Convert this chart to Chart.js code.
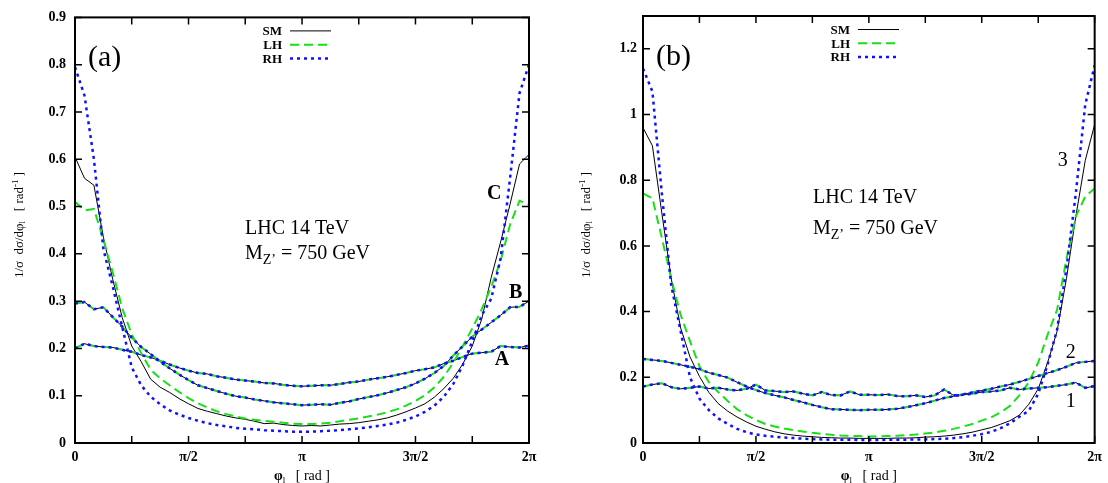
<!DOCTYPE html>
<html>
<head>
<meta charset="utf-8">
<script src="https://cdn.jsdelivr.net/npm/chart.js@4.4.1/dist/chart.umd.min.js"></script>
<style>
  body { margin: 0; background: #fff; }
  #wrap { position: relative; width: 1108px; height: 483px; overflow: hidden; }
  .panel { position: absolute; top: 0; width: 554px; height: 483px; }
</style>
</head>
<body>
<div id="wrap">
  <div class="panel" style="left:0"><canvas id="chartA" width="554" height="483"></canvas></div>
  <div class="panel" style="left:554px"><canvas id="chartB" width="554" height="483"></canvas></div>
</div>
<script>
// phi_l bin centres [rad]
const phi = [0.000, 0.131, 0.262, 0.393, 0.524, 0.654, 0.785, 0.916, 1.047, 1.178, 1.309, 1.440, 1.571,
  1.702, 1.833, 1.963, 2.094, 2.225, 2.356, 2.487, 2.618, 2.749, 2.880, 3.011, 3.142,
  3.272, 3.403, 3.534, 3.665, 3.796, 3.927, 4.058, 4.189, 4.320, 4.451, 4.581, 4.712,
  4.843, 4.974, 5.105, 5.236, 5.367, 5.498, 5.629, 5.760, 5.890, 6.021, 6.152, 6.283];

// x ticks every pi/4, labels only on multiples of pi/2
const xTicks = [0, 0.785, 1.571, 2.356, 3.142, 3.927, 4.712, 5.498, 6.283];
const xTickLabels = ['0', '', 'π/2', '', 'π', '', '3π/2', '', '2π'];

// panel (a)
const yTicksA = [0, 0.1, 0.2, 0.3, 0.4, 0.5, 0.6, 0.7, 0.8, 0.9];
const yTickLabelsA = ['0', '0.1', '0.2', '0.3', '0.4', '0.5', '0.6', '0.7', '0.8', '0.9'];
const curveA = [0.200, 0.210, 0.205, 0.203, 0.202, 0.197, 0.193, 0.186, 0.181, 0.174, 0.166, 0.159, 0.153,
  0.148, 0.146, 0.141, 0.138, 0.134, 0.132, 0.130, 0.127, 0.126, 0.123, 0.121, 0.120,
  0.121, 0.122, 0.122, 0.125, 0.128, 0.130, 0.134, 0.137, 0.140, 0.144, 0.148, 0.153,
  0.156, 0.160, 0.168, 0.174, 0.182, 0.189, 0.191, 0.193, 0.205, 0.203, 0.202, 0.206];
const curveB = [0.295, 0.298, 0.283, 0.287, 0.266, 0.246, 0.223, 0.203, 0.188, 0.172, 0.158, 0.145, 0.133,
  0.122, 0.116, 0.110, 0.104, 0.099, 0.096, 0.092, 0.089, 0.086, 0.084, 0.082, 0.080,
  0.081, 0.082, 0.081, 0.085, 0.088, 0.093, 0.097, 0.101, 0.106, 0.112, 0.118, 0.126,
  0.136, 0.148, 0.163, 0.185, 0.205, 0.225, 0.240, 0.255, 0.270, 0.287, 0.288, 0.300];
const curveC_SM = [0.605, 0.560, 0.545, 0.435, 0.345, 0.265, 0.205, 0.172, 0.135, 0.118, 0.107, 0.094, 0.083,
  0.073, 0.067, 0.062, 0.057, 0.053, 0.050, 0.046, 0.041, 0.042, 0.039, 0.037, 0.036,
  0.037, 0.036, 0.038, 0.040, 0.041, 0.043, 0.046, 0.049, 0.053, 0.059, 0.066, 0.074,
  0.083, 0.097, 0.115, 0.137, 0.167, 0.205, 0.262, 0.350, 0.425, 0.505, 0.590, 0.610];
const curveC_LH = [0.510, 0.492, 0.495, 0.430, 0.360, 0.285, 0.230, 0.190, 0.155, 0.137, 0.122, 0.108, 0.095,
  0.084, 0.075, 0.067, 0.061, 0.056, 0.052, 0.049, 0.047, 0.045, 0.043, 0.041, 0.040,
  0.040, 0.041, 0.043, 0.046, 0.049, 0.052, 0.056, 0.060, 0.065, 0.071, 0.079, 0.089,
  0.101, 0.118, 0.140, 0.170, 0.205, 0.242, 0.283, 0.330, 0.385, 0.462, 0.512, 0.505];
const curveC_RH = [0.795, 0.735, 0.600, 0.410, 0.330, 0.245, 0.160, 0.122, 0.098, 0.082, 0.069, 0.060, 0.053,
  0.047, 0.042, 0.038, 0.035, 0.032, 0.030, 0.029, 0.027, 0.026, 0.025, 0.024, 0.024,
  0.024, 0.025, 0.026, 0.027, 0.029, 0.031, 0.033, 0.036, 0.039, 0.043, 0.049, 0.056,
  0.066, 0.079, 0.098, 0.125, 0.165, 0.215, 0.270, 0.305, 0.390, 0.560, 0.740, 0.800];

// panel (b)
const yTicksB = [0, 0.2, 0.4, 0.6, 0.8, 1.0, 1.2];
const yTickLabelsB = ['0', '0.2', '0.4', '0.6', '0.8', '1', '1.2'];
const curve1 = [0.172, 0.178, 0.182, 0.170, 0.165, 0.168, 0.172, 0.166, 0.168, 0.163, 0.160, 0.165, 0.178,
  0.160, 0.158, 0.155, 0.157, 0.150, 0.145, 0.155, 0.146, 0.145, 0.157, 0.147, 0.147,
  0.146, 0.148, 0.143, 0.142, 0.145, 0.140, 0.145, 0.163, 0.145, 0.147, 0.150, 0.155,
  0.157, 0.160, 0.168, 0.163, 0.166, 0.168, 0.170, 0.174, 0.178, 0.184, 0.168, 0.173];
const curve2 = [0.256, 0.253, 0.250, 0.244, 0.238, 0.232, 0.225, 0.214, 0.207, 0.199, 0.185, 0.172, 0.161,
  0.152, 0.145, 0.139, 0.131, 0.124, 0.116, 0.109, 0.103, 0.102, 0.101, 0.100, 0.101,
  0.101, 0.102, 0.104, 0.109, 0.115, 0.121, 0.129, 0.137, 0.142, 0.148, 0.154, 0.160,
  0.165, 0.172, 0.178, 0.186, 0.195, 0.204, 0.213, 0.222, 0.232, 0.244, 0.247, 0.250];
const curve3_SM = [0.960, 0.905, 0.700, 0.500, 0.350, 0.262, 0.203, 0.154, 0.120, 0.097, 0.079, 0.064, 0.051,
  0.042, 0.034, 0.028, 0.024, 0.021, 0.019, 0.017, 0.016, 0.015, 0.015, 0.014, 0.014,
  0.014, 0.014, 0.015, 0.015, 0.016, 0.018, 0.019, 0.021, 0.024, 0.028, 0.033, 0.040,
  0.047, 0.057, 0.068, 0.085, 0.118, 0.165, 0.245, 0.340, 0.500, 0.690, 0.860, 0.970];
const curve3_LH = [0.760, 0.745, 0.625, 0.500, 0.390, 0.310, 0.234, 0.185, 0.155, 0.128, 0.103, 0.085, 0.070,
  0.058, 0.050, 0.044, 0.039, 0.035, 0.031, 0.028, 0.025, 0.023, 0.022, 0.021, 0.020,
  0.020, 0.021, 0.022, 0.024, 0.026, 0.029, 0.032, 0.037, 0.043, 0.050, 0.058, 0.068,
  0.078, 0.093, 0.113, 0.145, 0.185, 0.245, 0.330, 0.405, 0.560, 0.690, 0.750, 0.775];
const curve3_RH = [1.140, 1.070, 0.760, 0.480, 0.340, 0.200, 0.135, 0.100, 0.075, 0.058, 0.043, 0.033, 0.026,
  0.022, 0.019, 0.017, 0.015, 0.013, 0.012, 0.011, 0.010, 0.010, 0.010, 0.009, 0.009,
  0.009, 0.010, 0.010, 0.010, 0.011, 0.011, 0.012, 0.013, 0.015, 0.018, 0.022, 0.027,
  0.034, 0.045, 0.060, 0.080, 0.098, 0.150, 0.240, 0.345, 0.530, 0.760, 1.030, 1.150];

const SERIF = '"Liberation Serif", "Times New Roman", serif';
const GREEN = '#18e018';
const BLUE = '#1010ff';

const lineStyles = {
  SM: { color: '#000000', width: 1, dash: [] },
  LH: { color: GREEN, width: 2, dash: [9, 5] },
  RH: { color: BLUE, width: 2.5, dash: [3, 4] }
};
const legendKeys = ['SM', 'LH', 'RH'];

// draw a run of text pieces [text, font, dy]
function drawRich(ctx, parts, x, y, align) {
  let w = 0;
  parts.forEach(p => { ctx.font = p[1]; w += ctx.measureText(p[0]).width; });
  let cx = align === 'center' ? x - w / 2 : x;
  parts.forEach(p => {
    ctx.font = p[1];
    ctx.fillText(p[0], cx, y + (p[2] || 0));
    cx += ctx.measureText(p[0]).width;
  });
}

const decoPlugin = {
  id: 'deco',
  afterDatasetsDraw(chart) {
    const d = chart.options.plugins.deco;
    const ctx = chart.ctx, ca = chart.chartArea;
    const xs = chart.scales.x, ys = chart.scales.y;
    ctx.save();
    ctx.setLineDash([]);
    ctx.strokeStyle = '#000';
    ctx.fillStyle = '#000';

    // inward ticks on all four sides
    ctx.lineWidth = 1.5;
    ctx.beginPath();
    xs.ticks.forEach(t => {
      const px = xs.getPixelForValue(t.value);
      ctx.moveTo(px, ca.bottom); ctx.lineTo(px, ca.bottom - 7);
      ctx.moveTo(px, ca.top); ctx.lineTo(px, ca.top + 7);
    });
    ys.ticks.forEach(t => {
      const py = ys.getPixelForValue(t.value);
      ctx.moveTo(ca.left, py); ctx.lineTo(ca.left + 7, py);
      ctx.moveTo(ca.right, py); ctx.lineTo(ca.right - 7, py);
    });
    ctx.stroke();
    ctx.lineWidth = 2;
    ctx.strokeRect(ca.left, ca.top, ca.right - ca.left, ca.bottom - ca.top);

    // legend
    legendKeys.forEach((k, i) => {
      const st = lineStyles[k];
      const ly = ca.top + 13.5 + i * 13.8;
      ctx.font = 'bold 13px ' + SERIF;
      ctx.textAlign = 'right';
      ctx.textBaseline = 'middle';
      ctx.fillText(k, ca.left + 207, ly + 1);
      ctx.strokeStyle = st.color;
      ctx.lineWidth = st.width;
      ctx.setLineDash(st.dash);
      ctx.beginPath();
      ctx.moveTo(ca.left + 215, ly);
      ctx.lineTo(ca.left + 256, ly);
      ctx.stroke();
    });
    ctx.setLineDash([]);
    ctx.textAlign = 'left';
    ctx.textBaseline = 'alphabetic';

    // panel label
    ctx.font = '30px ' + SERIF;
    ctx.fillText(d.panel, ca.left + 13, ca.top + 49);

    // energy / mass text
    ctx.font = '20px ' + SERIF;
    ctx.fillText('LHC 14 TeV', ca.left + 170, ca.top + d.textY);
    drawRich(ctx, [['M', '20px ' + SERIF, 0], ['Z’', '14px ' + SERIF, 5], [' = 750 GeV', '20px ' + SERIF, 0]],
      ca.left + 170, ca.top + d.textY + d.textGap, 'left');

    // curve labels
    ctx.textAlign = 'center';
    d.curveLabels.forEach(c => {
      ctx.font = c.font + ' 20px ' + SERIF;
      ctx.fillText(c.text, xs.getPixelForValue(c.x), ys.getPixelForValue(c.y));
    });

    // y axis title
    ctx.save();
    ctx.translate(d.yTitleX, 225);
    ctx.rotate(-Math.PI / 2);
    ctx.textAlign = 'left';
    ctx.textBaseline = 'middle';
    const f = '13px ' + SERIF, fs = '9px ' + SERIF;
    drawRich(ctx, [['1/σ  dσ/dφ', f, 0], ['l', fs, 3], ['   [ rad', f, 0], ['-1', fs, -4], [' ]', f, 0]], 0, 0, 'center');
    ctx.restore();

    // x axis title
    ctx.textAlign = 'left';
    ctx.textBaseline = 'alphabetic';
    drawRich(ctx, [['φ', 'bold 14px ' + SERIF, 0], ['l', '9px ' + SERIF, 3], ['   [ rad ]', '14px ' + SERIF, 0]],
      (ca.left + ca.right) / 2, ca.bottom + 37, 'center');
    ctx.restore();
  }
};

function buildChart(id, cfg) {
  const datasets = [];
  cfg.curves.forEach(c => {
    legendKeys.forEach((k, j) => {
      const st = lineStyles[k];
      datasets.push({
        label: k,
        data: phi.map((x, i) => ({ x: x, y: c[k][i] })),
        borderColor: st.color,
        borderWidth: st.width,
        borderDash: st.dash,
        pointRadius: 0,
        tension: 0,
        fill: false,
        order: 3 - j
      });
    });
  });

  const tickFont = { family: SERIF, size: 14, weight: 'bold' };
  return new Chart(document.getElementById(id).getContext('2d'), {
    type: 'line',
    data: { datasets: datasets },
    plugins: [decoPlugin],
    options: {
      responsive: false,
      animation: false,
      devicePixelRatio: 1,
      layout: { padding: { left: 0, right: cfg.padRight, top: 16, bottom: 0 } },
      plugins: {
        legend: { display: false },
        tooltip: { enabled: false },
        deco: cfg.deco
      },
      scales: {
        x: {
          type: 'linear',
          min: 0,
          max: phi[phi.length - 1],
          afterBuildTicks: s => { s.ticks = xTicks.map(v => ({ value: v })); },
          afterFit: s => { s.height = 40; },
          grid: { display: false, drawTicks: false },
          border: { display: false },
          ticks: {
            autoSkip: false, maxRotation: 0, padding: 6, color: '#000', font: tickFont,
            callback: (v, i) => xTickLabels[i]
          }
        },
        y: {
          min: 0,
          max: cfg.yMax,
          afterBuildTicks: s => { s.ticks = cfg.yTicks.map(v => ({ value: v })); },
          afterFit: s => { s.width = cfg.yWidth; },
          grid: { display: false, drawTicks: false },
          border: { display: false },
          ticks: {
            padding: cfg.yPad, color: '#000', font: tickFont,
            callback: (v, i) => cfg.yTickLabels[i]
          }
        }
      }
    }
  });
}

buildChart('chartA', {
  curves: [
    { SM: curveA, LH: curveA, RH: curveA },
    { SM: curveB, LH: curveB, RH: curveB },
    { SM: curveC_SM, LH: curveC_LH, RH: curveC_RH }
  ],
  yMax: 0.9, yTicks: yTicksA, yTickLabels: yTickLabelsA,
  yWidth: 75, yPad: 9, padRight: 25,
  deco: {
    panel: '(a)', textY: 217, textGap: 25, yTitleX: 20,
    curveLabels: [
      { text: 'C', x: 5.80, y: 0.515, font: 'bold' },
      { text: 'B', x: 6.10, y: 0.307, font: 'bold' },
      { text: 'A', x: 5.91, y: 0.165, font: 'bold' }
    ]
  }
});

buildChart('chartB', {
  curves: [
    { SM: curve1, LH: curve1, RH: curve1 },
    { SM: curve2, LH: curve2, RH: curve2 },
    { SM: curve3_SM, LH: curve3_LH, RH: curve3_RH }
  ],
  yMax: 1.3, yTicks: yTicksB, yTickLabels: yTickLabelsB,
  yWidth: 89, yPad: 6, padRight: 9,
  deco: {
    panel: '(b)', textY: 187, textGap: 31, yTitleX: 33,
    curveLabels: [
      { text: '3', x: 5.84, y: 0.842, font: 'normal' },
      { text: '2', x: 5.95, y: 0.260, font: 'normal' },
      { text: '1', x: 5.95, y: 0.111, font: 'normal' }
    ]
  }
});
</script>
</body>
</html>
